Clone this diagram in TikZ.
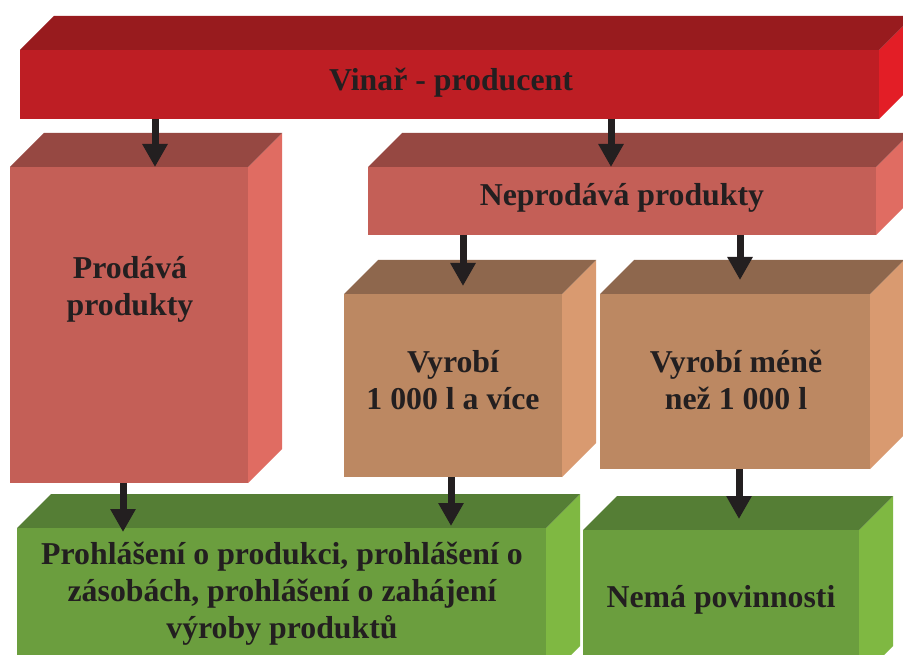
\documentclass[tikz,border=0pt]{standalone}
\usepackage{fontspec}
\setmainfont{Liberation Serif}
\usetikzlibrary{arrows.meta}
\definecolor{txt}{HTML}{231F20}
\definecolor{rFront}{HTML}{BE1E24}
\definecolor{rTop}{HTML}{981B1E}
\definecolor{rSide}{HTML}{E31E26}
\definecolor{pFront}{HTML}{C45F57}
\definecolor{pTop}{HTML}{964842}
\definecolor{pSide}{HTML}{E06C62}
\definecolor{bFront}{HTML}{BC8862}
\definecolor{bTop}{HTML}{8E674D}
\definecolor{bSide}{HTML}{D99A70}
\definecolor{gFront}{HTML}{6B9E3E}
\definecolor{gTop}{HTML}{557E35}
\definecolor{gSide}{HTML}{7FB842}
\tikzset{
  face/.style={inner sep=0pt, outer sep=0pt, draw=none},
  lbl/.style={text=txt, align=center, inner sep=0pt, font=\fontsize{31.8}{37}\selectfont\bfseries},
  arr/.style={draw=txt, line width=7pt, -{Triangle[width=24pt,length=23pt]}, fill=txt},
}
\newcommand{\cuboid}[8]{% name, x1, y1, x2, y2, front, top, side
  \fill[#8] (#4,#3) -- ++(34,-34) -- ++(0,#5-#3) -- (#4,#5) -- cycle;
  \fill[#7] (#2,#3) -- ++(34,-34) -- ++(#4-#2,0) -- (#4,#3) -- cycle;
  \node[face, fill=#6, minimum width={(#4-#2)*1pt}, minimum height={(#5-#3)*1pt}, anchor=north west] (#1) at (#2,#3) {};
}
\begin{document}
\begin{tikzpicture}[x=1pt,y=-1pt]
\useasboundingbox (0,0) rectangle (903,655);
\clip (0,0) rectangle (903,655);
\fill[white] (0,0) rectangle (903,655);

\cuboid{vin}{20}{50}{879}{119}{rFront}{rTop}{rSide}
\cuboid{prod}{10}{167}{248}{483}{pFront}{pTop}{pSide}
\cuboid{neprod}{368}{167}{876}{235}{pFront}{pTop}{pSide}
\cuboid{vyr}{344}{294}{562}{477}{bFront}{bTop}{bSide}
\cuboid{vyrm}{600}{294}{870}{469}{bFront}{bTop}{bSide}
\cuboid{proh}{17}{528}{546}{680}{gFront}{gTop}{gSide}
\cuboid{nema}{583}{530}{859}{680}{gFront}{gTop}{gSide}

\node[lbl] (tvin) at (451,83) {Vinař - producent};
\node[lbl] (tprod) at (130,289) {Prodává\\produkty};
\node[lbl] (tneprod) at (622,198) {Neprodává produkty};
\node[lbl] (tvyr) at (453,380) {Vyrobí\\1 000 l a více};
\node[lbl] (tvyrm) at (736,380) {Vyrobí méně\\než 1 000 l};
\node[lbl] (tproh) at (282,594) {Prohlášení o produkci, prohlášení o\\zásobách, prohlášení o zahájení\\výroby produktů};
\node[lbl] (tnema) at (721,600) {Nemá povinnosti};

\draw[arr] (vin.south -| 155,0) -- (prod.north -| 155,0);
\draw[arr] (vin.south -| 611,0) -- (neprod.north -| 611,0);
\draw[arr] (neprod.south -| 463,0) -- ([yshift=8pt]vyr.north -| 463,0);
\draw[arr] (neprod.south -| 740,0) -- ([yshift=14pt]vyrm.north -| 740,0);
\draw[arr] (prod.south -| 123,0) -- ([yshift=-4pt]proh.north -| 123,0);
\draw[arr] (vyr.south -| 451,0) -- ([yshift=2pt]proh.north -| 451,0);
\draw[arr] (vyrm.south -| 739,0) -- ([yshift=11pt]nema.north -| 739,0);
\end{tikzpicture}
\end{document}
